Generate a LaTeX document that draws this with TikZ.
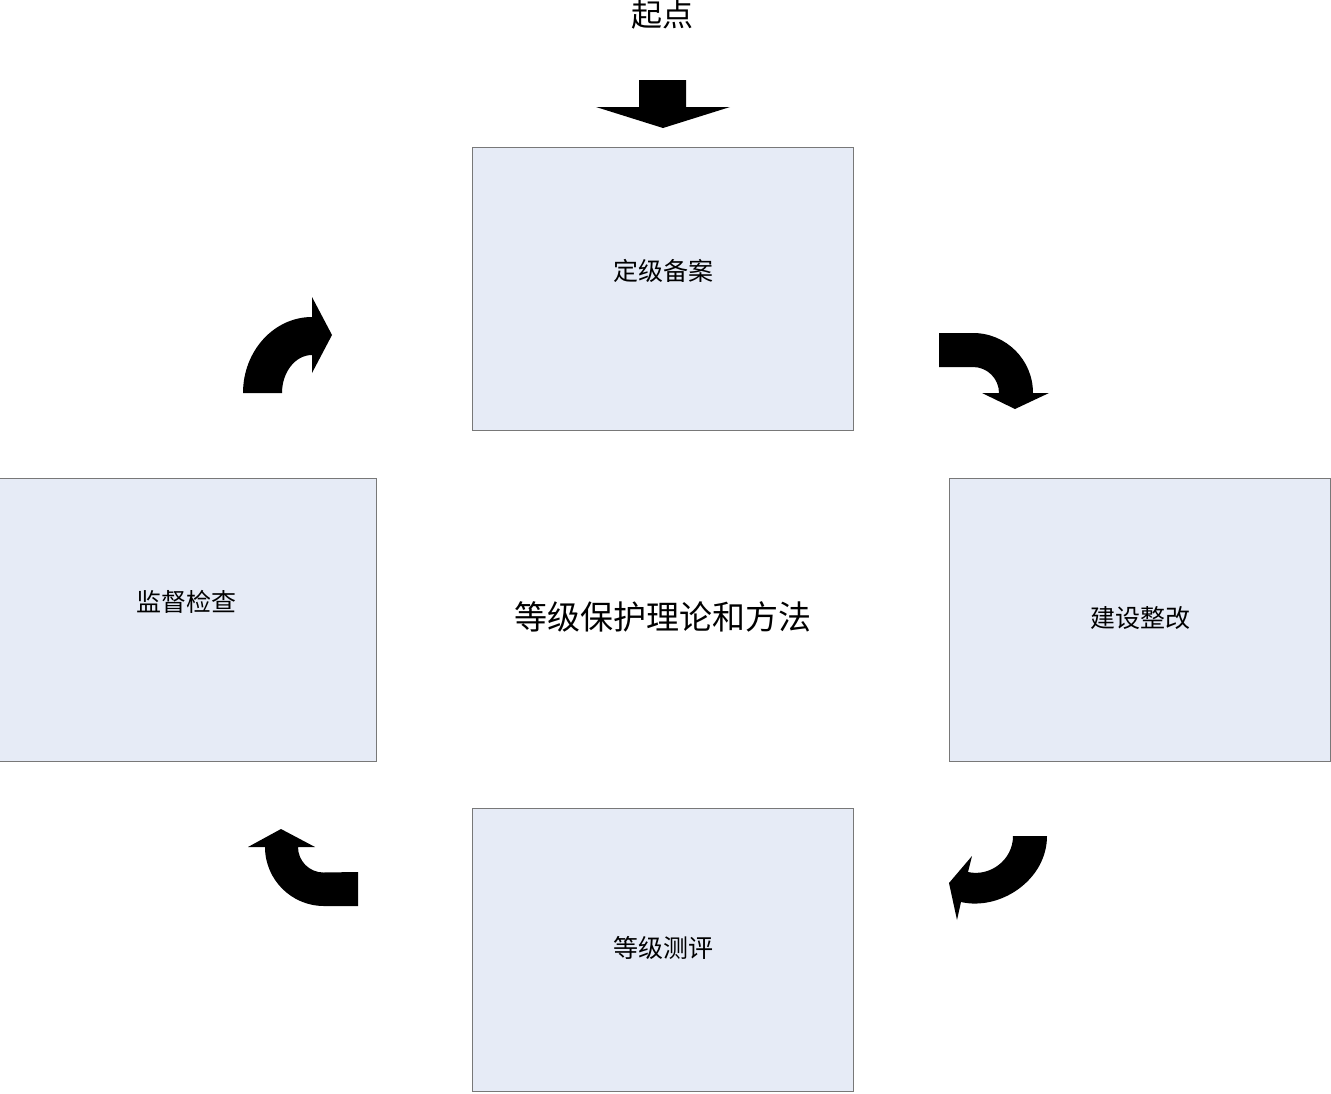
\documentclass[tikz,border=0pt]{standalone}
\usepackage{fontspec}
\newfontfamily\cjk{Noto Sans CJK SC}
\definecolor{boxfill}{RGB}{230,235,246}
\definecolor{boxline}{RGB}{120,120,120}
\begin{document}
\begin{tikzpicture}[x=1pt,y=-1pt,
  stagebox/.style={draw=boxline,line width=1pt,fill=boxfill,minimum width=381pt,minimum height=283pt,inner sep=0pt,font=\cjk\fontsize{25}{30}\selectfont},
  bigarrow/.style={fill=black,draw=none}]
\useasboundingbox (0,0) rectangle (1331,1093);
% boxes
\node[stagebox] (top) at (662.5,288.5) {};
\node[stagebox,minimum width=377pt] (left) at (188,619.5) {};
\node[stagebox] (right) at (1140,619.5) {};
\node[stagebox] (bottom) at (662.5,949.5) {};
\node[font=\cjk\fontsize{25}{30}\selectfont] (toptxt) at (663,271) {定级备案};
\node[font=\cjk\fontsize{25}{30}\selectfont] (lefttxt) at (186,602) {监督检查};
\node[font=\cjk\fontsize{25}{30}\selectfont] (righttxt) at (1140,618) {建设整改};
\node[font=\cjk\fontsize{25}{30}\selectfont] (bottomtxt) at (663,948) {等级测评};
\node[font=\cjk\fontsize{33}{40}\selectfont] (center) at (663,617) {等级保护理论和方法};
\node[font=\cjk\fontsize{31}{38}\selectfont] (start) at (662,15) {起点};
% top straight arrow
\fill[bigarrow] (639,80) -- (686,80) -- (686,107) -- (730,107) -- (663,128) -- (596,107) -- (639,107) -- cycle;
% top-right curved arrow
\fill[bigarrow] (939,333) -- (973,333) arc[start angle=270,end angle=360,radius=60]
  -- (1049,393) -- (1015,409) -- (982,393) -- (999,393)
  arc[start angle=360,end angle=270,radius=26] -- (939,367) -- cycle;
% bottom-right curved arrow
\fill[bigarrow] (1013,836) -- (1047,836) .. controls (1047,880) and (1000,911) .. (961,902)
  -- (957,920) -- (949,883) -- (972,856) -- (968,872)
  .. controls (990,877) and (1013,860) .. (1013,836) -- cycle;
% bottom-left curved arrow
\fill[bigarrow] (358,906) -- (324,906) arc[start angle=90,end angle=180,radius=59]
  -- (248,847) -- (281,829) -- (315,847) -- (298,847)
  arc[start angle=180,end angle=90,radius=25.5] -- (358,872) -- cycle;
% top-left curved arrow
\fill[bigarrow] (243,393) arc[start angle=180,end angle=270,x radius=69,y radius=76]
  -- (312,297) -- (332,335) -- (312,373) -- (312,355)
  arc[start angle=270,end angle=180,x radius=30,y radius=38] -- cycle;
\end{tikzpicture}
\end{document}
